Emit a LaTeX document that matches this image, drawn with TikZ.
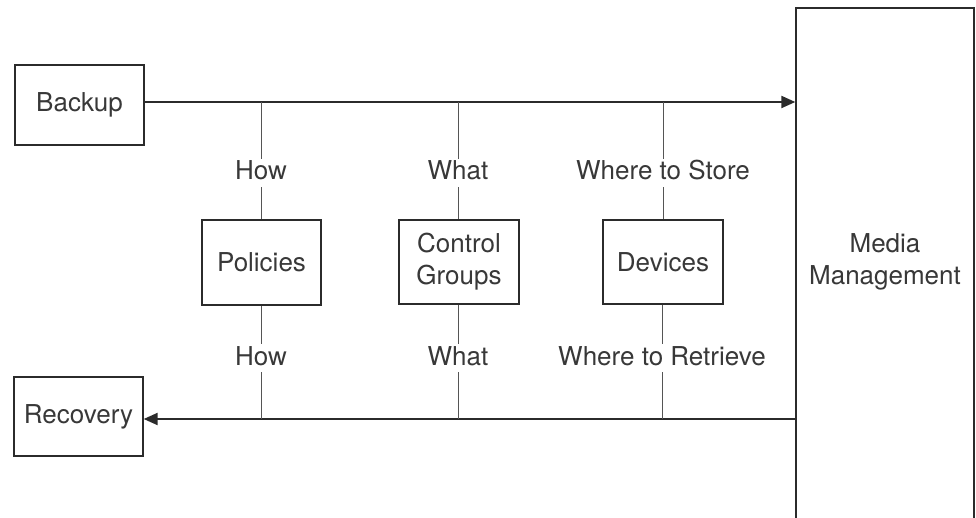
\documentclass[tikz,border=0pt]{standalone}
\usepackage{fontspec}
\setmainfont{TeX Gyre Heros}
\usetikzlibrary{arrows.meta}
\definecolor{ink}{HTML}{2B2B2B}
\definecolor{txt}{HTML}{383838}
\definecolor{tick}{HTML}{555555}
\begin{document}
\begin{tikzpicture}[x=1pt,y=-1pt,
  every node/.style={font=\fontsize{26}{32}\selectfont, text=txt},
  block/.style={draw=ink, line width=1.3pt, inner sep=0pt, align=center},
  flow/.style={draw=ink, line width=2pt, -{Triangle[length=14pt,width=12pt]}},
  tickline/.style={draw=tick, line width=1pt},
  tag/.style={inner sep=0pt, text height=21pt, text depth=7pt, anchor=base}]
\useasboundingbox (0,0) rectangle (976,518);

% main boxes
\node[block, minimum width=129pt, minimum height=80pt] (backup) at (79.5,105) {Backup};
\node[block, minimum width=129pt, minimum height=79pt] (recovery) at (78.5,416.5) {Recovery};
\node[block, minimum width=119pt, minimum height=85pt] (policies) at (261.5,262.5) {Policies};
\node[block, minimum width=120pt, minimum height=84pt] (control) at (459,262) {Control\\Groups};
\node[block, minimum width=120pt, minimum height=84pt] (devices) at (663,262) {Devices};

% media management: tall box running past the lower edge
\node[block, minimum width=178pt, minimum height=530pt] (media) at (885,273) {};
\node (mediatext) at (885,262) [align=center] {Media\\Management};

% backup and recovery flows
\draw[flow] (backup.east |- 0,102) -- (media.west |- 0,102);
\draw[flow] (media.west |- 0,419) -- (recovery.east |- 0,419);

% labels on the connecting ticks
\node[tag] (howup) at (261,180) {How};
\node[tag] (whatup) at (458,180) {What};
\node[tag] (whereup) at (663,180) {Where to Store};
\node[tag] (howdn) at (261,365) {How};
\node[tag] (whatdn) at (458,365) {What};
\node[tag] (wheredn) at (662,365) {Where to Retrieve};

% ticks from the backup flow down to the boxes
\draw[tickline] (howup.north |- 0,102) -- (howup.north);
\draw[tickline] (howup.south) -- (howup.south |- policies.north);
\draw[tickline] (whatup.north |- 0,102) -- (whatup.north);
\draw[tickline] (whatup.south) -- (whatup.south |- control.north);
\draw[tickline] (whereup.north |- 0,102) -- (whereup.north);
\draw[tickline] (whereup.south) -- (whereup.south |- devices.north);

% ticks from the boxes down to the recovery flow
\draw[tickline] (howdn.north |- policies.south) -- (howdn.north);
\draw[tickline] (howdn.south) -- (howdn.south |- 0,419);
\draw[tickline] (whatdn.north |- control.south) -- (whatdn.north);
\draw[tickline] (whatdn.south) -- (whatdn.south |- 0,419);
\draw[tickline] (wheredn.north |- devices.south) -- (wheredn.north);
\draw[tickline] (wheredn.south) -- (wheredn.south |- 0,419);
\end{tikzpicture}
\end{document}
